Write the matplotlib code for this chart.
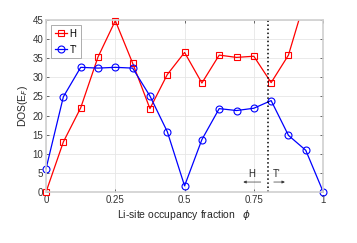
import matplotlib
matplotlib.use("Agg")
import matplotlib.pyplot as plt

phi = [i / 16 for i in range(17)]
dos_H = [0, 13.1, 22.0, 35.3, 44.8, 33.7, 21.8, 30.7, 36.5, 28.5, 35.8, 35.2, 35.5, 28.6, 35.8, 51.0, 58.0]
dos_T = [6.1, 24.9, 32.6, 32.4, 32.6, 32.4, 25.1, 15.8, 1.6, 13.7, 21.8, 21.3, 21.9, 23.9, 14.8, 10.9, 0.1]
x_ticks = [0, 0.25, 0.5, 0.75, 1]
x_ticklabels = ["0", "0.25", "0.5", "0.75", "1"]
y_ticks = list(range(0, 50, 5))
boundary = 0.8

plt.rcParams['font.family'] = ['Liberation Sans', 'DejaVu Sans']
fig = plt.figure(figsize=(3.57, 2.43), dpi=100)
ax = fig.add_axes([0.129, 0.21, 0.776, 0.708])

ymin, ymax = 0, 45
mid = [i for i, v in enumerate(dos_H) if ymin + 1.5 <= v <= ymax - 1.5]
edge = [i for i, v in enumerate(dos_H) if ymin <= v <= ymax and i not in mid]
ax.plot(phi, dos_H, color='#ff0000', lw=0.9, marker='s', ms=4.5, mfc='none', mew=0.8, label='H',
        markevery=mid)
ax.plot([phi[i] for i in edge], [dos_H[i] for i in edge], ls='none', marker='s', ms=4.5,
        mfc='none', mew=0.8, color='#ff0000', clip_on=False)
ax.plot(phi, dos_T, color='#0000ff', lw=0.9, marker='o', ms=5, mfc='none', mew=0.8, label="T'", clip_on=False)
ax.axvline(boundary, color='black', ls=':', lw=1.1)

ax.set_xlim(0, 1)
ax.set_ylim(ymin, ymax)
ax.set_xticks(x_ticks)
ax.set_xticklabels(x_ticklabels)
ax.set_yticks(y_ticks)
ax.grid(True, color='#e6e6e6', lw=0.6)
ax.set_axisbelow(True)
for s in ax.spines.values():
    s.set_color('#d0d0d0')
    s.set_linewidth(1.2)
ax.tick_params(axis='both', labelsize=7, colors='#333333', length=2, width=0.5, direction='in', pad=2)
ax.tick_params(axis='both', which='both', top=True, right=True)
ax.set_xlabel(r"Li-site occupancy fraction   $\phi$", fontsize=7.5, color='#262626', labelpad=2)
ax.set_ylabel(r"DOS(E$_F$)", fontsize=7.5, color='#262626', labelpad=2)

ax.text(0.741, 4.8, "H", fontsize=7, ha='center', va='center', color='#262626')
ax.text(0.834, 4.8, "T'", fontsize=7, ha='center', va='center', color='#262626')
ax.annotate("", xy=(0.702, 2.6), xytext=(0.785, 2.6),
            arrowprops=dict(arrowstyle='-|>', color='#333333', lw=0.5, mutation_scale=4))
ax.annotate("", xy=(0.872, 2.6), xytext=(0.812, 2.6),
            arrowprops=dict(arrowstyle='-|>', color='#333333', lw=0.5, mutation_scale=4))

leg = ax.legend(loc='upper left', fontsize=7, handlelength=1.3, handletextpad=0.2,
                borderpad=0.4, labelspacing=0.6, fancybox=False, framealpha=1,
                borderaxespad=0.5)
leg.get_frame().set_edgecolor('#a0a0a0')
leg.get_frame().set_linewidth(0.6)

fig.savefig("out.png", dpi=100)
